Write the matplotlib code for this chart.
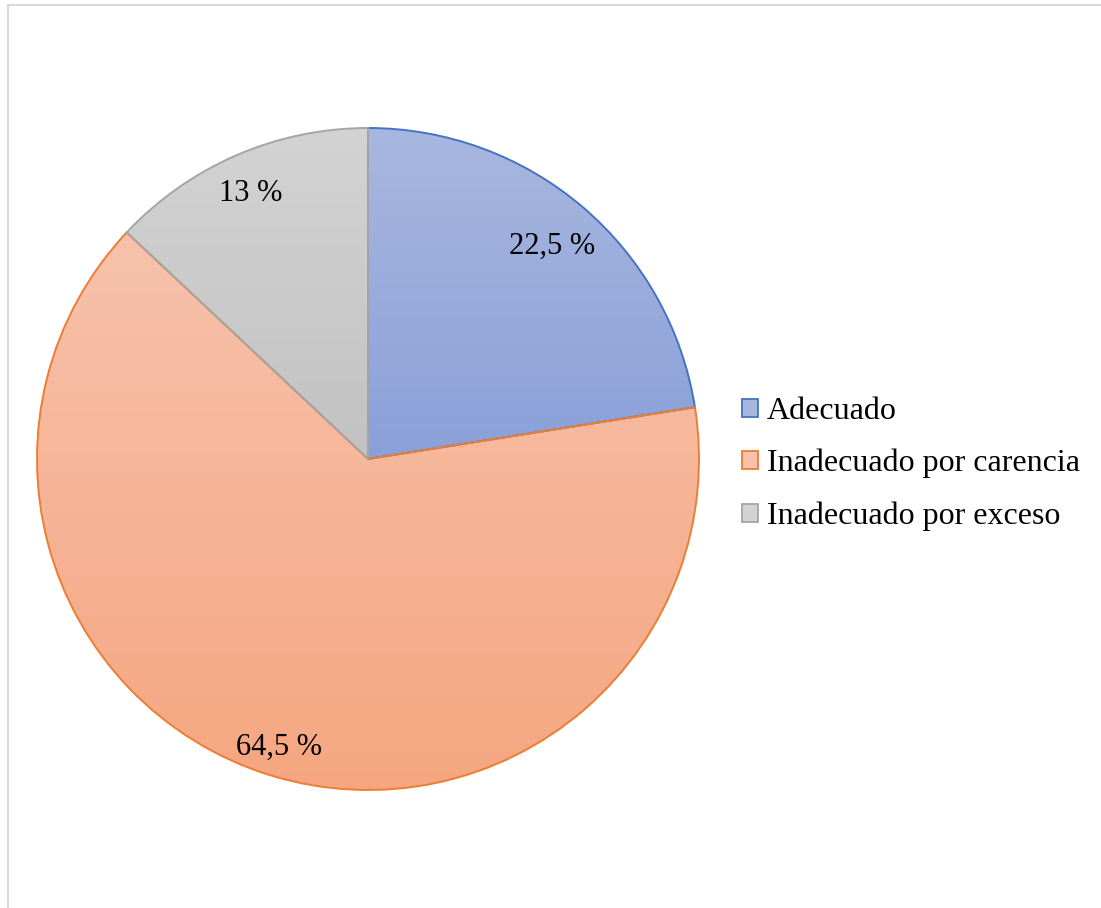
import numpy as np
import matplotlib
matplotlib.use("Agg")
import matplotlib.pyplot as plt
from matplotlib.colors import to_rgb
from matplotlib.lines import Line2D
from matplotlib.patches import Patch
from matplotlib.transforms import offset_copy

categories = ["Adecuado", "Inadecuado por carencia", "Inadecuado por exceso"]
values = [22.5, 64.5, 13.0]
value_labels = ["22,5 %", "64,5 %", "13 %"]

top_colors = ["#A8B7E0", "#F7C2AC", "#D3D3D3"]
bottom_colors = ["#8AA0D8", "#F5A680", "#C2C2C2"]
edge_colors = ["#4472C4", "#ED7D31", "#A5A5A5"]

plt.rcParams["font.family"] = ["Liberation Serif", "DejaVu Serif"]

W, H = 1101, 908
fig = plt.figure(figsize=(W / 100, H / 100), dpi=100)
fig.patch.set_facecolor("white")

# chart frame (light gray)
fig.add_artist(Line2D([8 / W, 1.0], [1 - 5 / H, 1 - 5 / H], transform=fig.transFigure,
                      color="#D9D9D9", lw=1.5))
fig.add_artist(Line2D([8 / W, 8 / W], [0, 1 - 5 / H], transform=fig.transFigure,
                      color="#D9D9D9", lw=1.5))

cx, cy, r = 368, 908 - 459, 331
ax = fig.add_axes([(cx - r) / W, (cy - r) / H, 2 * r / W, 2 * r / H])

wedges, _ = ax.pie(values, startangle=90, counterclock=False, radius=1,
                   wedgeprops=dict(linewidth=1.4))

for w, tc, bc, ec in zip(wedges, top_colors, bottom_colors, edge_colors):
    w.set_facecolor("none")
    w.set_edgecolor(ec)
    w.set_zorder(3)
    w.set_clip_on(False)
    verts = w.get_path().vertices
    x0, x1 = verts[:, 0].min(), verts[:, 0].max()
    y0, y1 = verts[:, 1].min(), verts[:, 1].max()
    t = np.linspace(0, 1, 256)[:, None]
    c0 = np.array(to_rgb(tc))
    c1 = np.array(to_rgb(bc))
    grad = (1 - t)[:, :, None] * c0[None, None, :] + t[:, :, None] * c1[None, None, :]
    grad = np.repeat(grad, 2, axis=1)
    im = ax.imshow(grad, extent=[x0, x1, y0, y1], origin="upper", aspect="auto",
                   zorder=2, interpolation="bilinear")
    im.set_clip_path(w)

ax.set_xlim(-1.0, 1.0)
ax.set_ylim(-1.0, 1.0)
ax.set_aspect("equal")
ax.axis("off")

# value labels, placed along each slice's mid angle
label_dist = [0.86, 0.90, 0.885]
txt_tr = offset_copy(ax.transData, fig=fig, x=-1, y=-3.5, units="dots")
for w, lab, d in zip(wedges, value_labels, label_dist):
    mid = np.deg2rad((w.theta1 + w.theta2) / 2)
    ax.text(d * np.cos(mid), d * np.sin(mid), lab, ha="center", va="center",
            fontsize=22, color="black", zorder=5, transform=txt_tr)

handles = [Patch(facecolor=tc, edgecolor=ec, linewidth=1.3)
           for tc, ec in zip(top_colors, edge_colors)]
fig.legend(handles, categories, loc="center left",
           bbox_to_anchor=(742 / W, 1 - 464 / H), frameon=False,
           fontsize=23, handlelength=0.5, handleheight=0.5,
           handletextpad=0.28, labelspacing=0.72, borderpad=0, borderaxespad=0)

fig.savefig("out.png", dpi=100)
